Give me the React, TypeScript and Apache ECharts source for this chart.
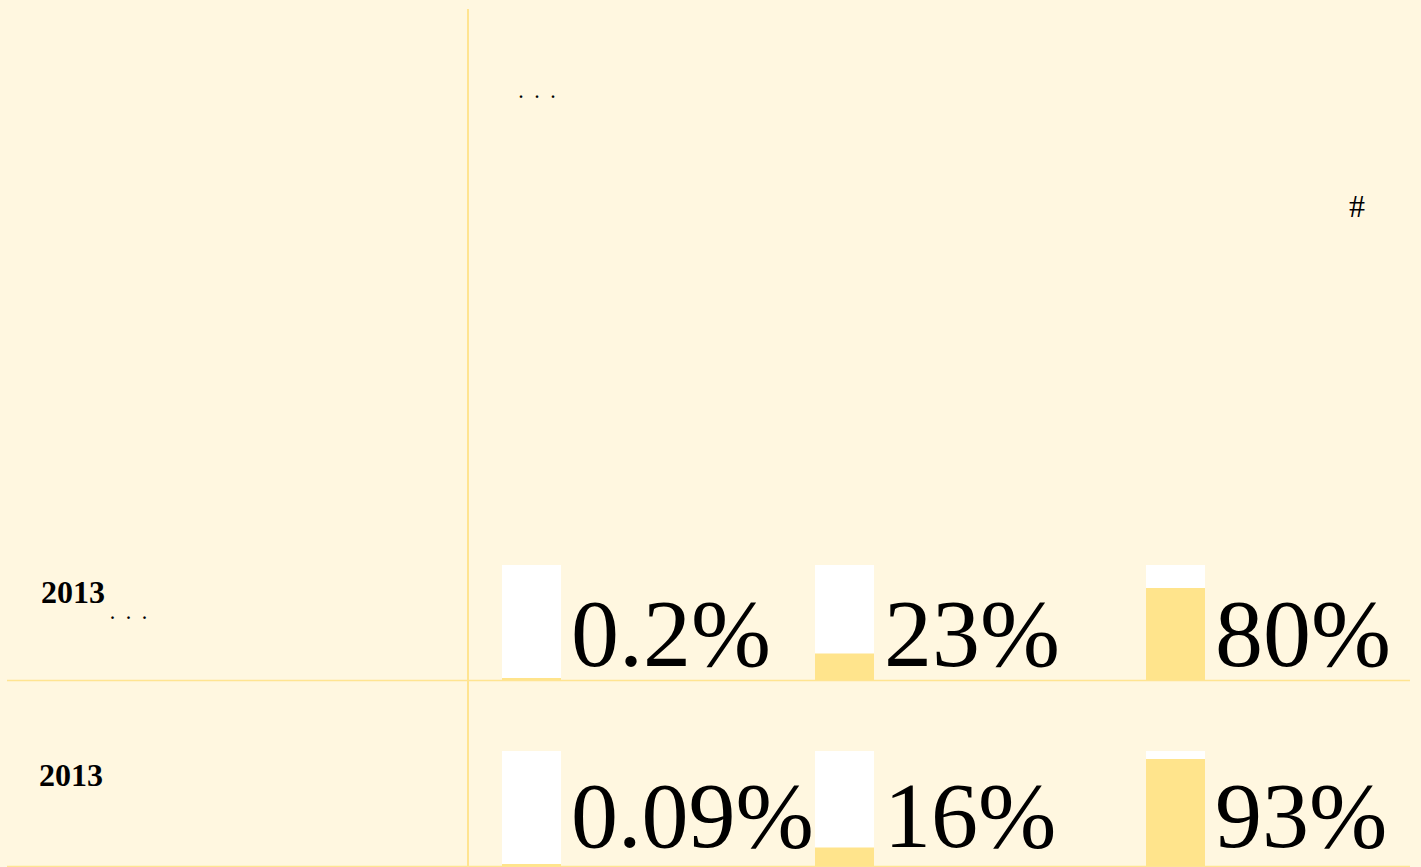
import React, { useEffect, useRef } from "react";
import * as echarts from "echarts";

const rowLabels = ["2013", "2013"];
const row1Values = [0.2, 23, 80];
const row2Values = [0.09, 16, 93];
const barLefts = [502, 815, 1146];

const BG = "#FFF7E0";
const YELLOW = "#FFE48C";
const LINE = "#FFE491";
const SERIF = "'Liberation Serif', 'Times New Roman', serif";

function fmt(v: number) {
  return v + "%";
}

export default function App() {
  const ref = useRef<HTMLDivElement>(null);
  useEffect(() => {
    document.body.style.margin = "0";
    document.body.style.background = BG;
    const chart = echarts.init(ref.current!, undefined, { renderer: "svg" });
    const rows = [row1Values, row2Values];
    const rowTop = [565, 751];
    const rowH = 115;
    const grids: any[] = [];
    const xAxes: any[] = [];
    const yAxes: any[] = [];
    const series: any[] = [];
    const texts: any[] = [];
    rows.forEach((vals, r) => {
      vals.forEach((v, i) => {
        const idx = grids.length;
        grids.push({ left: barLefts[i], width: 59, top: rowTop[r], height: rowH, containLabel: false });
        xAxes.push({ type: "category", gridIndex: idx, data: [""], show: false });
        yAxes.push({ type: "value", gridIndex: idx, min: 0, max: 100, show: false });
        series.push({
          type: "bar",
          xAxisIndex: idx,
          yAxisIndex: idx,
          data: [v],
          barWidth: "100%",
          barMinHeight: 2,
          showBackground: true,
          backgroundStyle: { color: "#FFFFFF" },
          itemStyle: { color: YELLOW },
          silent: true,
        });
        texts.push({
          type: "text",
          x: barLefts[i] + 69,
          y: r === 0 ? 633.5 : 815,
          style: {
            text: fmt(v),
            font: `${r === 0 ? 96 : 94}px ${SERIF}`,
            fill: "#000",
            align: "left",
            verticalAlign: "middle",
          },
        });
      });
    });
    const option: any = {
      animation: false,
      backgroundColor: BG,
      grid: grids,
      xAxis: xAxes,
      yAxis: yAxes,
      series,
      graphic: [
        { type: "line", shape: { x1: 468, y1: 9, x2: 468, y2: 867 }, style: { stroke: LINE, lineWidth: 2 }, z: 0 },
        { type: "line", shape: { x1: 7, y1: 680.5, x2: 1410, y2: 680.5 }, style: { stroke: LINE, lineWidth: 1.5 }, z: 0 },
        { type: "line", shape: { x1: 7, y1: 866.5, x2: 1410, y2: 866.5 }, style: { stroke: LINE, lineWidth: 1.5 }, z: 0 },
        {
          type: "text", x: 41, y: 591.5,
          style: { text: rowLabels[0], font: `bold 32px ${SERIF}`, fill: "#000", verticalAlign: "middle" },
        },
        {
          type: "text", x: 110.5, y: 613.6,
          style: { text: ".   .   .", font: `bold 16px ${SERIF}`, fill: "#000", verticalAlign: "middle" },
        },
        {
          type: "text", x: 39, y: 774.5,
          style: { text: rowLabels[1], font: `bold 32px ${SERIF}`, fill: "#000", verticalAlign: "middle" },
        },
        {
          type: "text", x: 519, y: 92,
          style: { text: ".   .   .", font: `bold 16px ${SERIF}`, fill: "#000", verticalAlign: "middle" },
        },
        {
          type: "text", x: 1349, y: 206,
          style: { text: "#", font: `32px ${SERIF}`, fill: "#000", verticalAlign: "middle" },
        },
        ...texts,
      ],
    };
    chart.setOption(option);
    return () => chart.dispose();
  }, []);
  return <div ref={ref} style={{ width: 1421, height: 867 }} />;
}
